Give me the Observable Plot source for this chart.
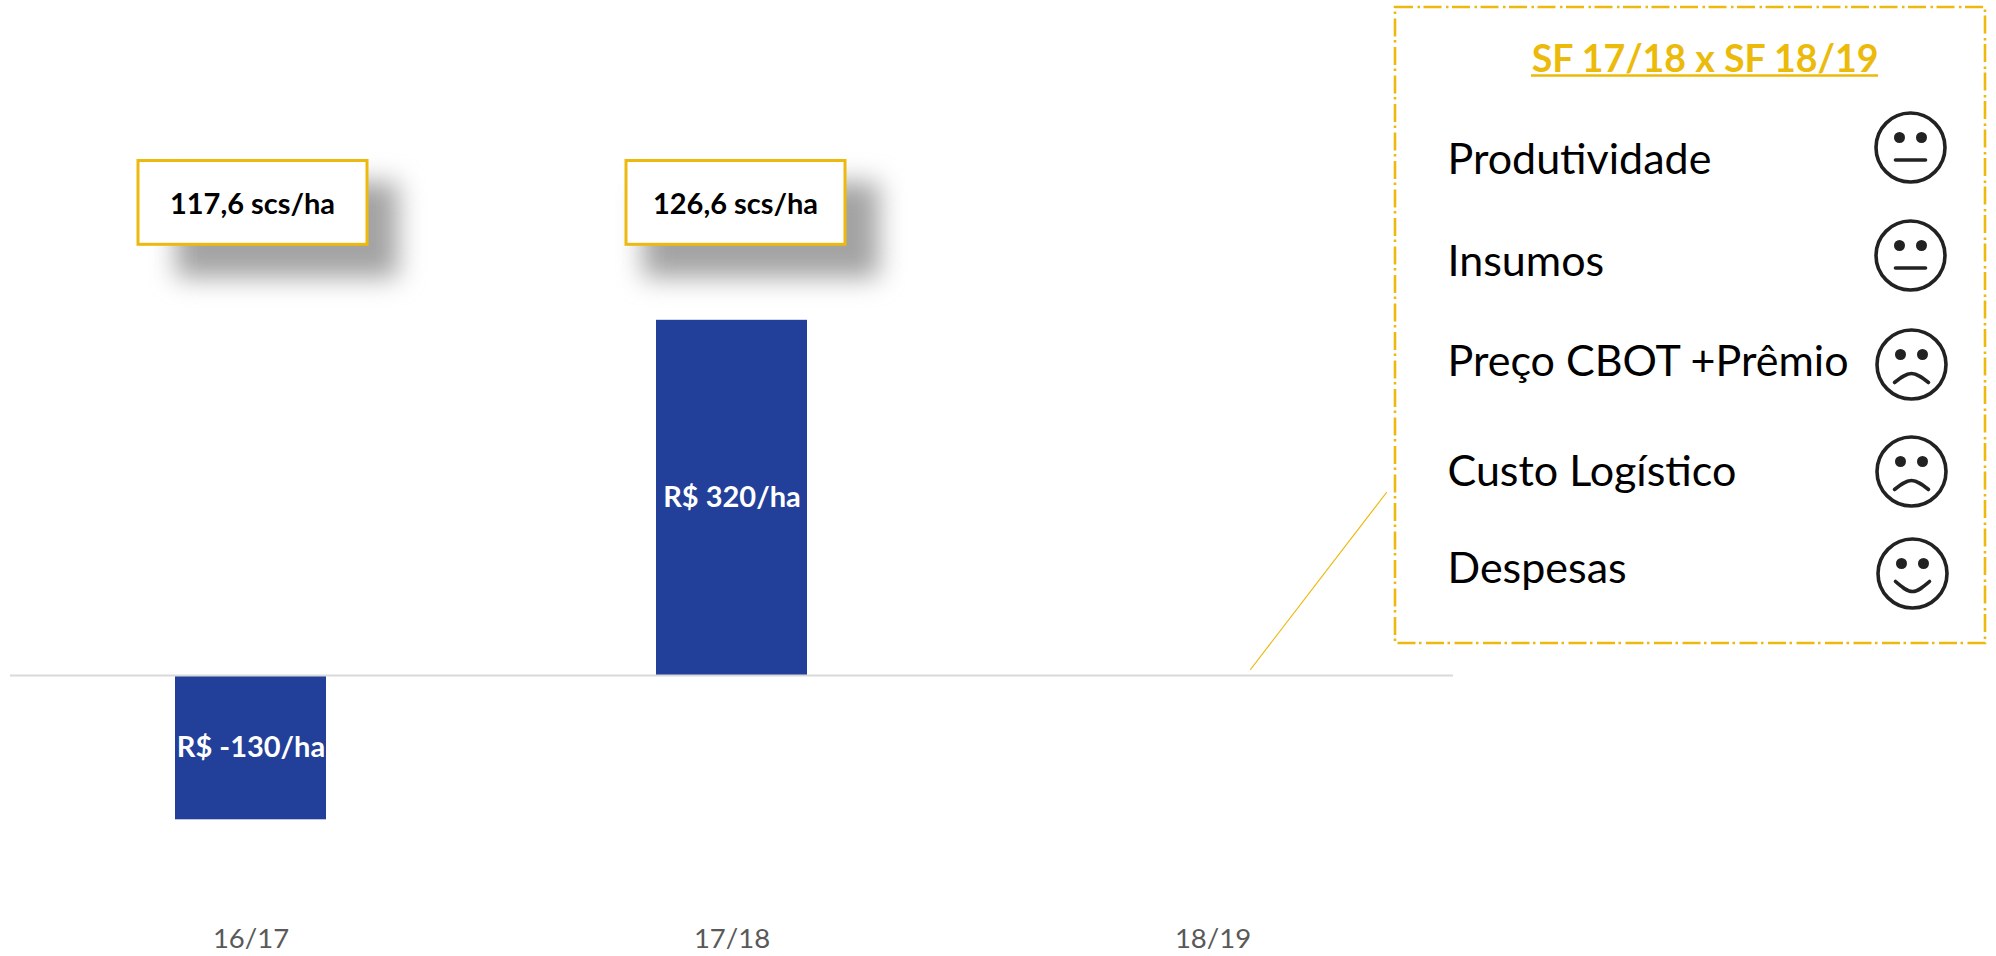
<!DOCTYPE html>
<html>
<head>
<meta charset="utf-8">
<script src="https://cdn.jsdelivr.net/npm/d3@7"></script>
<script src="https://cdn.jsdelivr.net/npm/@observablehq/plot@0.6"></script>
<style>
  html, body { margin: 0; padding: 0; background: #fff; overflow: hidden; }
  #stage { position: relative; width: 1996px; height: 956px; }
  #stage svg { position: absolute; left: 0; top: 0; background: transparent; }
</style>
</head>
<body>
<div id="stage"></div>
<script>
// ---- data ----
const seasons = ["16/17", "17/18", "18/19"];
const margins = [-130, 320, null];
const marginLabels = ["R$ -130/ha", "R$ 320/ha", ""];
const yieldLabels = ["117,6 scs/ha", "126,6 scs/ha"];
const panelTitle = "SF 17/18 x SF 18/19";
const factors = ["Produtividade", "Insumos", "Preço CBOT +Prêmio", "Custo Logístico", "Despesas"];
const moods = [0, 0, -1, -1, 1];

// ---- style / layout ----
const FONT = "Lato, Carlito, sans-serif";
const BLUE = "#22409a", GOLD = "#edb90f", GOLD_TEXT = "#ebba0a", INK = "#222222";
const factorBaselines = [173, 275, 375, 485, 582];
const faceCentres = [[1910, 147], [1910, 255], [1911, 364], [1911, 471], [1912, 573]];

const bars = seasons.map((s, i) => ({season: s, value: margins[i], label: marginLabels[i]}));
const drawn = bars.filter(d => d.value != null);

function yieldBox(season, label, insetL, insetR, dx) {
  return [
    Plot.barY([season], {x: d => d, y1: 388, y2: 463.5, insetLeft: insetL, insetRight: insetR,
      fill: "white", stroke: GOLD, strokeWidth: 3}),
    Plot.text([season], {x: d => d, y: 424, dx, text: () => label,
      fontSize: 29, fontWeight: 700, fill: "#000", lineAnchor: "middle"})
  ];
}
function yieldShadow(season, insetL, insetR) {
  return Plot.barY([season], {x: d => d, y1: 358, y2: 444, insetLeft: insetL, insetRight: insetR,
    fill: "#8c8c8c", fillOpacity: 0.8, className: "shadow"});
}

const chart = Plot.plot({
  width: 1996, height: 956,
  marginLeft: 10, marginRight: 543, marginTop: 9, marginBottom: 59,
  style: {fontFamily: FONT, background: "transparent"},
  x: {domain: seasons, paddingInner: 0.686, paddingOuter: 0.343, label: null},
  y: {domain: [-200, 600], axis: null, label: null},
  marks: [
    yieldShadow(seasons[0], 1, -72),
    yieldShadow(seasons[1], -13, -72),
    ...yieldBox(seasons[0], yieldLabels[0], -37, -41, 1.5),
    ...yieldBox(seasons[1], yieldLabels[1], -30, -38, 3.5),
    Plot.barY(drawn, {x: "season", y: "value", fill: BLUE}),
    Plot.text(drawn, {x: "season", y: d => d.value / 2, text: "label",
      fontSize: 29, fontWeight: 700, fill: "#fff", lineAnchor: "middle"}),
    Plot.ruleY([0], {stroke: "#d9d9d9", strokeWidth: 2}),
    Plot.axisX({anchor: "bottom", tickSize: 0, tickPadding: 31, fontSize: 27.5, fill: "#595959",
      fontFamily: FONT, label: null})
  ]
});
chart.querySelectorAll(".shadow").forEach(g => g.setAttribute("style", "filter: blur(13px)"));
document.getElementById("stage").appendChild(chart);

// callout panel: same size canvas with a unit scale
const faces = factors.map((f, i) => ({cx: faceCentres[i][0], cy: faceCentres[i][1], mood: moods[i]}));
const mouths = faces.flatMap((f, i) => {
  if (f.mood === 0) return [{i, x: f.cx - 15, y: f.cy + 12.5}, {i, x: f.cx + 15, y: f.cy + 12.5}];
  const ends = f.mood > 0 ? 8 : 18, mid = f.mood > 0 ? 18 : 9;
  return [{i, x: f.cx - 17, y: f.cy + ends}, {i, x: f.cx, y: f.cy + mid}, {i, x: f.cx + 17, y: f.cy + ends}];
});
const eyes = faces.flatMap(f => [-11, 11].map(o => ({x: f.cx + o, y: f.cy - 10})));
const factorRows = factors.map((f, i) => ({label: f, y: factorBaselines[i]}));

const panel = Plot.plot({
  width: 1996, height: 956,
  margin: 0,
  style: {fontFamily: FONT, background: "transparent"},
  x: {domain: [0, 1996], axis: null},
  y: {domain: [0, 956], range: [0, 956], axis: null},
  marks: [
    Plot.line([{x: 1250, y: 669}, {x: 1386, y: 492}], {x: "x", y: "y", stroke: GOLD, strokeWidth: 1.2}),
    Plot.rect([0], {x1: 1395, x2: 1985, y1: 7, y2: 643, fill: "none", stroke: GOLD, strokeWidth: 2.6,
      strokeDasharray: "18 4.5 2.5 3.5"}),
    Plot.text([panelTitle], {x: 1704.5, y: 71, text: d => d, fontSize: 37.5, fontWeight: 700,
      fill: GOLD_TEXT, lineAnchor: "bottom"}),
    Plot.ruleY([75], {x1: 1531, x2: 1878, stroke: GOLD_TEXT, strokeWidth: 2.6}),
    Plot.text(factorRows, {x: 1447, y: "y", text: "label", textAnchor: "start", fontSize: 43,
      fill: "#000", lineAnchor: "bottom", dy: 0}),
    Plot.dot(faces, {x: "cx", y: "cy", r: 34.5, stroke: INK, strokeWidth: 3.6, fill: "white"}),
    Plot.dot(eyes, {x: "x", y: "y", r: 5.5, fill: INK}),
    Plot.line(mouths, {x: "x", y: "y", z: "i", stroke: INK, strokeWidth: 3.6, curve: "natural"})
  ]
});
document.getElementById("stage").appendChild(panel);
</script>
</body>
</html>
